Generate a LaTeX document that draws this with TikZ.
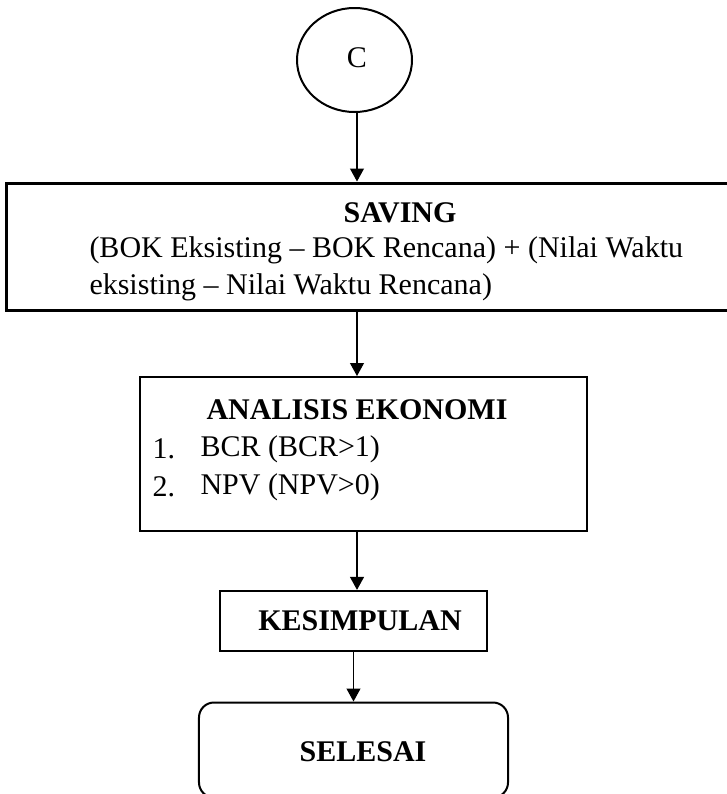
\documentclass[tikz,border=0pt]{standalone}
\usepackage{fontspec}
\setmainfont{Liberation Serif}
\usetikzlibrary{arrows.meta, shapes.geometric}

\begin{document}
\begin{tikzpicture}[x=0.4pt, y=-0.4pt, >={Triangle[length=5.2pt, width=5.6pt]},
	box/.style={draw, rectangle, inner sep=0pt},
	txt/.style={inner sep=0pt, font=\fontsize{12}{14}\selectfont},
	flow/.style={->, line width=0.45pt}]
	  			\useasboundingbox (0,0) rectangle (727,794);

	  			\node[draw, ellipse, line width=0.8pt, minimum width=46pt, minimum height=41.6pt] (start) at (354.5,60) {};
	  			\node[txt] (startlabel) at (357,58) {C};

	  			\node[box, line width=1.2pt, minimum width=290pt, minimum height=50.8pt] (saving) at (369,246.5) {};
	  			\node[txt, font=\fontsize{12}{14}\selectfont\bfseries] (savingtitle) at (400,213) {SAVING};
	  			\node[txt, anchor=west] (savingone) at (89,250) {(BOK Eksisting -- BOK Rencana) + (Nilai Waktu};
	  			\node[txt, anchor=west] (savingtwo) at (89,287) {eksisting -- Nilai Waktu Rencana)};

	  			\node[box, line width=0.8pt, minimum width=178.8pt, minimum height=61.6pt] (analisis) at (363.5,454) {};
	  			\node[txt, font=\fontsize{12}{14}\selectfont\bfseries] (analisistitle) at (357,410) {ANALISIS EKONOMI};
	  			\node[txt, anchor=west] (numone) at (152,449) {1.};
	  			\node[txt, anchor=west] (bcr) at (200,449) {BCR (BCR>1)};
	  			\node[txt, anchor=west] (numtwo) at (152,487) {2.};
	  			\node[txt, anchor=west] (npv) at (200,487) {NPV (NPV>0)};

	  			\node[box, line width=0.9pt, minimum width=106.8pt, minimum height=24pt] (kesimpulan) at (353.5,621) {};
	  			\node[txt, font=\fontsize{12}{14}\selectfont\bfseries] (kesimpulanlabel) at (360,621) {KESIMPULAN};

	  			\node[box, rounded corners=6pt, line width=0.8pt, minimum width=123.6pt, minimum height=38pt] (selesai) at (353.5,750) {};
	  			\node[txt, font=\fontsize{12}{14}\selectfont\bfseries] (selesailabel) at (363,752) {SELESAI};

	  			\draw[flow] (start.south -| startlabel) -- (saving.north -| startlabel);
	  			\draw[flow] (saving.south -| startlabel) -- (analisis.north -| startlabel);
	  			\draw[flow] (analisis.south -| startlabel) -- (kesimpulan.north -| startlabel);
	  			\draw[flow] (kesimpulan.south -| selesai) -- (selesai.north);
	  		\end{tikzpicture}
\end{document}
